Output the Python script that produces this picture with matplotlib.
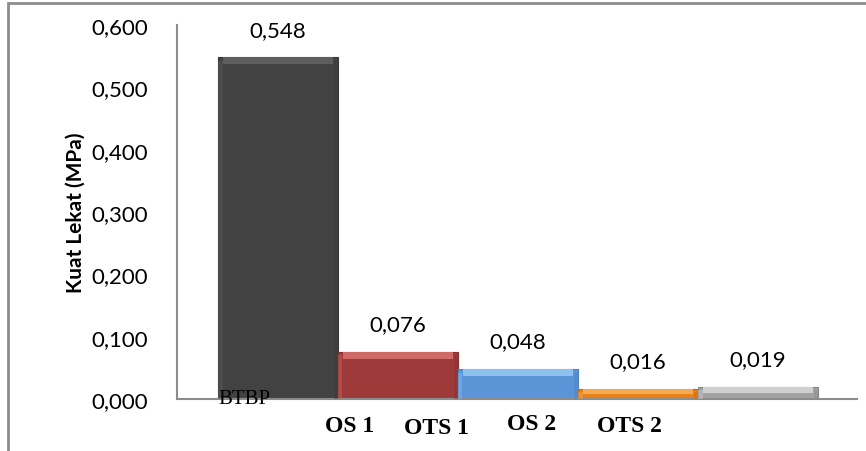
import matplotlib
matplotlib.use("Agg")
import matplotlib.pyplot as plt
from matplotlib.patches import Rectangle
from matplotlib.ticker import FuncFormatter, MultipleLocator

categories = ["BTBP", "OS 1", "OTS 1", "OS 2", "OTS 2"]
values = [0.548, 0.076, 0.048, 0.016, 0.019]
colors = ["#424242", "#9e3b3a", "#5b95d7", "#e8801c", "#a3a3a3"]
light = ["#5e5e5e", "#d06a68", "#8ec0ee", "#f5aa55", "#d0d0d0"]
dark = ["#383838", "#85302f", "#4a83c4", "#c8690f", "#858585"]
# label x positions (offset from category centre) as drawn in reference
label_dx = [-0.28, -0.40, -0.68, -0.89, -1.07]
label_dy = [0, -27, -29, -24, -27]

FIG_W, FIG_H = 866, 452
fig = plt.figure(figsize=(FIG_W / 100, FIG_H / 100), dpi=100)
ax = fig.add_axes([177 / FIG_W, 1 - 400 / FIG_H, (857 - 177) / FIG_W, (400 - 26) / FIG_H])

# outer frame (only top/left visible)
fig.patches.append(Rectangle((8 / FIG_W, -0.2), 1.2, (452 - 4) / FIG_H + 0.2,
                             transform=fig.transFigure, fill=False,
                             edgecolor="#8c8c8c", lw=2.0))

px = 0.6 / 374.0  # data units per pixel (y)
for i, v in enumerate(values):
    ax.bar(i, v, width=1.0, color=colors[i], edgecolor=dark[i], lw=0.8, zorder=2)
    band = min(7 * px, v * 0.5)
    ax.bar(i, band, bottom=v - band, width=0.92, color=light[i], lw=0, zorder=3)
    ax.bar(i - 0.48, v - band * 0.5, width=0.035, color=light[i], lw=0, alpha=0.4, zorder=3)
    ax.bar(i + 0.48, v - band * 0.5, width=0.035, color=dark[i], lw=0, alpha=0.4, zorder=3)
    ax.annotate(f"{v:.3f}".replace(".", ","), (i, v), xytext=(0, 20),
                textcoords="offset points", ha="center", va="center",
                fontsize=16, family="Lato", color="#000000")

ax.set_xlim(-0.5 - 41 / 120, 4.5 + 39 / 120)
ax.set_ylim(0, 0.6)
ax.yaxis.set_major_locator(MultipleLocator(0.1))
ax.yaxis.set_major_formatter(FuncFormatter(lambda v, p: f"{v:.3f}".replace(".", ",")))
ax.tick_params(axis="y", length=0, pad=21, labelsize=16)
for t in ax.get_yticklabels():
    t.set_family("Lato")
ax.set_xticks([])

for s in ["top", "right"]:
    ax.spines[s].set_visible(False)
for s in ["left", "bottom"]:
    ax.spines[s].set_color("#8c8c8c")
    ax.spines[s].set_linewidth(1.5)

ax.set_ylabel("Kuat Lekat (MPa)", fontsize=15, fontweight="bold", family="Lato", labelpad=4)

for i, c in enumerate(categories):
    if i == 0:
        ax.annotate(c, (i + label_dx[i], 0), xytext=(0, label_dy[i]), textcoords="offset pixels",
                    ha="center", va="center", fontsize=15, family="Liberation Serif",
                    fontstretch="condensed", zorder=5, annotation_clip=False)
    else:
        ax.annotate(c, (i + label_dx[i], 0), xytext=(0, label_dy[i]), textcoords="offset pixels",
                    ha="center", va="center", fontsize=17, family="Liberation Serif",
                    fontweight="bold", zorder=5, annotation_clip=False)

fig.savefig("out.png", dpi=100)
